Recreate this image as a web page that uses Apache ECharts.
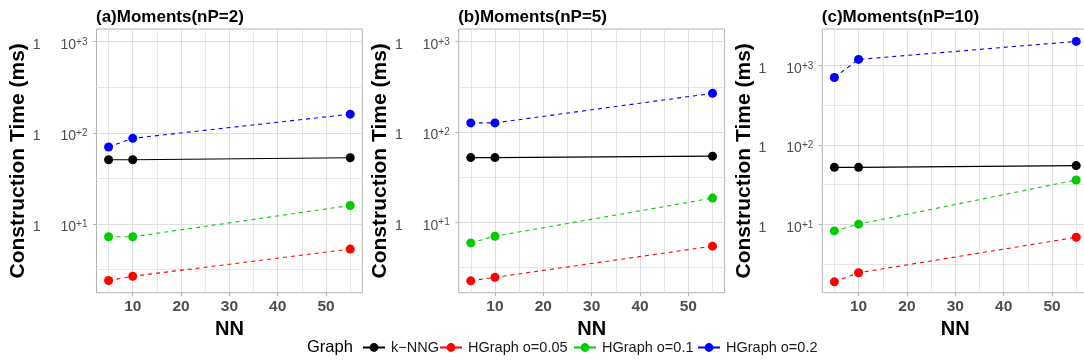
<!DOCTYPE html>
<html>
<head>
<meta charset="utf-8">
<script src="https://cdn.jsdelivr.net/npm/echarts@6/dist/echarts.min.js"></script>
<style>
html,body{margin:0;padding:0;background:#fff;}
#chart{width:1084px;height:362px;}
</style>
</head>
<body>
<div id="chart"></div>
<script>
// ---- data ----
const nn = [5, 10, 55];
const seriesNames = ['k\u2212NNG', 'HGraph o=0.05', 'HGraph o=0.1', 'HGraph o=0.2'];
const panelTitles = ['(a)Moments(nP=2)', '(b)Moments(nP=5)', '(c)Moments(nP=10)'];

const knngA = [50.6, 50.6, 53.2];
const h005A = [2.38, 2.65, 5.27];
const h01A  = [7.2, 7.2, 15.9];
const h02A  = [69.7, 86.9, 160];

const knngB = [52, 52, 54];
const h005B = [2.24, 2.45, 5.43];
const h01B  = [5.9, 7.0, 18.5];
const h02B  = [126, 126, 268];

const knngC = [52.3, 52.3, 55];
const h005C = [1.9, 2.47, 6.9];
const h01C  = [8.3, 10.1, 36.3];
const h02C  = [706, 1190, 2005];

const xTickLabels = [10, 20, 30, 40, 50];
const xMinorTicks = [5, 15, 25, 35, 45, 55];
const yTickLabels = [10, 100, 1000];
const yMinorTicks = [3.1623, 31.623, 316.23, 3162.3];

// ---- styles ----
const colors = ['#000000', '#ff0000', '#00cd00', '#0000ff'];
const lineTypes = ['solid', [4, 4], [4, 4], [4, 4]];
const FONT = 'Liberation Sans, Arial, Helvetica, sans-serif';
const panels = [
  {title: panelTitles[0], data: [knngA, h005A, h01A, h02A], left: 96.5, width: 265.8, ymin: 1.75, ymax: 1380},
  {title: panelTitles[1], data: [knngB, h005B, h01B, h02B], left: 458.7, width: 265.9, ymin: 1.656, ymax: 1384},
  {title: panelTitles[2], data: [knngC, h005C, h01C, h02C], left: 822.3, width: 266, ymin: 1.387, ymax: 2871}
];
const TOP = 29, HEIGHT = 263.7;
const legendLefts = [362, 439, 573, 697];

const grids = [], xAxes = [], yAxes = [], series = [], titles = [];
panels.forEach((p, i) => {
  grids.push({left: p.left, top: TOP, width: p.width, height: HEIGHT, show: true,
    borderColor: '#b3b3b3', borderWidth: 1, backgroundColor: '#fff',
    containLabel: false, outerBoundsMode: 'none'});
  titles.push({text: p.title, left: p.left - 0.5, top: 9, padding: 0,
    textStyle: {fontFamily: FONT, fontSize: 17, fontWeight: 'bold', color: '#000'}});
  // major x axis
  xAxes.push({type: 'value', gridIndex: i, min: 2.5, max: 57.5,
    name: 'NN', nameLocation: 'middle', nameGap: 17,
    nameTextStyle: {fontFamily: FONT, fontSize: 20, fontWeight: 'bold', color: '#000'},
    axisLine: {show: false},
    axisTick: {show: true, length: 3.5, customValues: xTickLabels, lineStyle: {color: '#b3b3b3', width: 1}},
    axisLabel: {customValues: xTickLabels, margin: 6, fontFamily: FONT, fontSize: 15.5, fontWeight: 'bold', color: '#4d4d4d'},
    splitLine: {show: true, lineStyle: {color: '#dedede', width: 1}}
  });
  // minor x axis (grid lines only)
  xAxes.push({type: 'value', gridIndex: i, min: 2.5, max: 57.5, position: 'bottom',
    axisLine: {show: false}, axisLabel: {show: false},
    axisTick: {show: false, customValues: xMinorTicks},
    splitLine: {show: true, lineStyle: {color: '#e6e6e6', width: 1}}
  });
  // major y axis
  yAxes.push({type: 'log', logBase: 10, gridIndex: i, min: p.ymin, max: p.ymax,
    name: 'Construction Time (ms)', nameLocation: 'middle', nameGap: 66,
    nameTextStyle: {fontFamily: FONT, fontSize: 21, fontWeight: 'bold', color: '#000'},
    axisLine: {show: false},
    axisTick: {show: true, length: 3.5, customValues: yTickLabels, lineStyle: {color: '#b3b3b3', width: 1}},
    axisLabel: {customValues: yTickLabels, margin: 9, padding: [6, 0, 0, 0],
      formatter: v => '{one|1}{gap| }{base|10}{sup|+' + Math.round(Math.log10(v)) + '}',
      rich: {
        one: {fontFamily: FONT, fontSize: 14, color: '#4d4d4d', verticalAlign: 'bottom'},
        gap: {fontFamily: FONT, fontSize: 14, width: 20, verticalAlign: 'bottom'},
        base: {fontFamily: FONT, fontSize: 14, color: '#4d4d4d', verticalAlign: 'bottom'},
        sup: {fontFamily: FONT, fontSize: 10, color: '#4d4d4d', padding: [0, 0, 5, 0], verticalAlign: 'bottom'}
      }},
    splitLine: {show: true, lineStyle: {color: '#dedede', width: 1}}
  });
  // minor y axis
  yAxes.push({type: 'log', logBase: 10, gridIndex: i, min: p.ymin, max: p.ymax, position: 'left',
    axisLine: {show: false}, axisLabel: {show: false},
    axisTick: {show: false, customValues: yMinorTicks},
    splitLine: {show: true, lineStyle: {color: '#e6e6e6', width: 1}}
  });
  p.data.forEach((vals, k) => {
    series.push({
      name: seriesNames[k], type: 'line', xAxisIndex: 2 * i, yAxisIndex: 2 * i,
      data: nn.map((x, j) => [x, vals[j]]),
      symbol: 'circle', symbolSize: 9, showSymbol: true,
      color: colors[k],
      itemStyle: {color: colors[k]},
      lineStyle: {color: colors[k], width: 1.1, type: lineTypes[k]},
      emphasis: {disabled: true},
      animation: false, z: 3
    });
  });
});

const legends = seriesNames.map((nm, k) => ({
  data: [nm],
  left: legendLefts[k], top: 340, padding: 0,
  itemWidth: 22, itemHeight: 11, itemGap: 0,
  lineStyle: {type: 'solid'},
  textStyle: {fontFamily: FONT, fontSize: 14.5, color: '#1a1a1a', padding: [0, 0, 0, 1]},
  selectedMode: false
}));

const chart = echarts.init(document.getElementById('chart'), null, {renderer: 'canvas'});
chart.setOption({
  animation: false,
  backgroundColor: '#ffffff',
  title: titles,
  grid: grids,
  xAxis: xAxes,
  yAxis: yAxes,
  series: series,
  legend: legends,
  graphic: [{
    type: 'text', left: 307, top: 339,
    style: {text: 'Graph', fontFamily: FONT, fontSize: 16.5, fill: '#000'}
  }]
});
</script>
</body>
</html>
